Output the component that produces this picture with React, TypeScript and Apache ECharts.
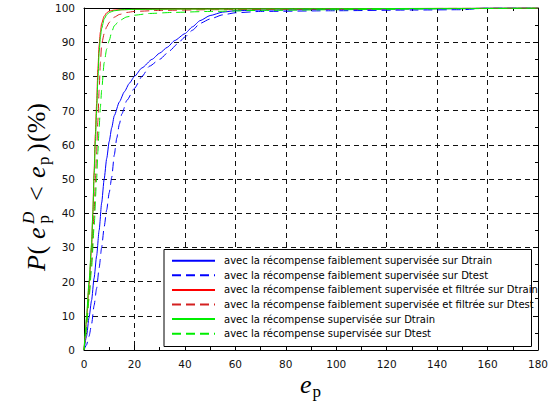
import React, { useEffect, useRef } from "react";
import * as echarts from "echarts";

// ---------- data ----------
const seriesNames = [
  "avec la récompense faiblement supervisée sur Dtrain",
  "avec la récompense faiblement supervisée sur Dtest",
  "avec la récompense faiblement supervisée et filtrée sur Dtrain",
  "avec la récompense faiblement supervisée et filtrée sur Dtest",
  "avec la récompense supervisée sur Dtrain",
  "avec la récompense supervisée sur Dtest",
];

const weakTrain: [number, number][] = [
  [0, 0], [1, 4], [2, 9.5], [3, 14.5], [4, 21], [5, 27.5], [6, 35], [7, 43], [8, 50], [9, 56],
  [10, 61], [11, 65], [12, 68.5], [14, 72.5], [16, 75.5], [18, 78], [20, 80], [23, 82.5],
  [27, 85], [30, 86.8], [33, 88.5], [36, 90.5], [40, 92.5], [43, 94.5], [46, 96.3], [50, 97.8],
  [55, 98.8], [60, 99.2], [70, 99.4], [100, 99.6], [150, 99.8], [160, 100], [180, 100],
];

const weakTest: [number, number][] = [
  [0, 0], [1, 1.5], [2, 4], [3, 7.5], [4, 13], [5, 18], [6, 24], [7, 30], [8, 36], [9, 41],
  [10, 46], [11, 50.5], [12, 57], [13, 62], [14, 66], [15, 69], [17, 73], [20, 76.5], [23, 80],
  [26, 83], [30, 85], [34, 87.5], [37, 89.5], [40, 91.5], [43, 93.5], [46, 95.5], [50, 96.8],
  [55, 98], [60, 98.6], [70, 99], [100, 99.2], [130, 99.4], [150, 99.5], [160, 100], [180, 100],
];

const filtTrain: [number, number][] = [
  [0, 0], [0.5, 4], [1, 9], [2, 19], [3, 30], [3.5, 40], [4, 52], [4.5, 63], [5, 72], [5.5, 82],
  [6, 89], [6.5, 93], [7, 95.5], [8, 97.6], [9, 98.6], [10, 99.1], [12, 99.4], [15, 99.5],
  [20, 99.6], [40, 99.7], [100, 99.8], [150, 99.9], [180, 100],
];

const filtTest: [number, number][] = [
  [0, 0], [0.5, 3], [1, 7], [2, 16], [3, 26], [4, 40], [4.5, 49], [5, 58], [5.5, 67], [6, 76],
  [6.5, 84], [7, 89.5], [8, 92.5], [9, 94.5], [10, 95.8], [12, 97.3], [14, 98.1], [17, 98.7],
  [20, 99], [30, 99.3], [50, 99.5], [100, 99.7], [150, 99.9], [180, 100],
];

const supTrain: [number, number][] = [
  [0, 0], [0.5, 5], [1, 10], [2, 20], [3, 31], [3.5, 40], [4, 51], [4.5, 61], [5, 70], [5.5, 79],
  [6, 87], [6.5, 91.5], [7, 94], [8, 96.8], [9, 98], [10, 98.7], [12, 99.2], [15, 99.5],
  [20, 99.6], [40, 99.7], [100, 99.8], [150, 99.9], [180, 100],
];

const supTest: [number, number][] = [
  [0, 0], [0.5, 3], [1, 7], [2, 15], [3, 24], [4, 36], [5, 50], [5.5, 58], [6, 65], [6.5, 71],
  [7, 76], [8, 84], [9, 88], [10, 90.5], [11, 93], [12, 94.8], [14, 96.3], [17, 97.4],
  [20, 97.9], [26, 98.4], [35, 98.7], [50, 99], [70, 99.3], [100, 99.5], [150, 99.8], [180, 100],
];

const seriesData = [weakTrain, weakTest, filtTrain, filtTest, supTrain, supTest];
const seriesColors = ["#0000ff", "#0000ff", "#ff0000", "#d42020", "#00ee00", "#00ee00"];
const seriesDashed = [false, true, false, true, false, true];

const xMin = 0, xMax = 180, xStep = 20;
const yMin = 0, yMax = 100, yStep = 10;

export default function App() {
  const ref = useRef<HTMLDivElement>(null);

  useEffect(() => {
    if (!ref.current) return;
    const chart = echarts.init(ref.current, null, { renderer: "svg" });

    const labelFont = { fontFamily: "DejaVu Sans", fontSize: 10.5, color: "#111" };
    const baseX = {
      type: "value" as const,
      min: xMin, max: xMax, interval: xStep,
      axisLine: { show: true, onZero: false, lineStyle: { color: "#000", width: 1 } },
      axisTick: { show: true, inside: true, length: 5, lineStyle: { color: "#000" } },
      minorTick: { show: true, splitNumber: 2, length: 3, lineStyle: { color: "#000" } },
    };
    const baseY = {
      type: "value" as const,
      min: yMin, max: yMax, interval: yStep,
      axisLine: { show: true, onZero: false, lineStyle: { color: "#000", width: 1 } },
      axisTick: { show: true, inside: true, length: 5, lineStyle: { color: "#000" } },
      minorTick: { show: true, splitNumber: 2, length: 3, lineStyle: { color: "#000" } },
    };

    const serif = "Liberation Serif";
    const mainSize = 26;
    const subSize = 17;
    const t = (text: string, x: number, y: number, size: number, italic: boolean) => ({
      type: "text",
      x, y,
      style: {
        text,
        font: `${italic ? "italic " : ""}${size}px "${serif}"`,
        fill: "#000",
        textAlign: "left",
        textVerticalAlign: "middle",
      },
    });

    chart.setOption({
      animation: false,
      backgroundColor: "#fff",
      grid: { left: 84, right: 14, top: 8, bottom: 53, containLabel: false },
      xAxis: [
        {
          ...baseX,
          position: "bottom",
          axisLabel: { ...labelFont, margin: 8 },
          splitLine: { show: true, lineStyle: { color: "#111", type: [5, 4], width: 1 } },
        },
        {
          ...baseX,
          position: "top",
          axisLabel: { show: false },
          splitLine: { show: false },
        },
      ],
      yAxis: [
        {
          ...baseY,
          position: "left",
          axisLabel: { ...labelFont, margin: 9 },
          splitLine: { show: true, lineStyle: { color: "#111", type: [5, 4], width: 1 } },
        },
        {
          ...baseY,
          position: "right",
          axisLabel: { show: false },
          splitLine: { show: false },
        },
      ],
      legend: {
        orient: "vertical",
        left: 171,
        top: 254.7,
        padding: 0,
        itemWidth: 43,
        itemHeight: 10,
        itemGap: 2.6,
        z: 60,
        itemStyle: { opacity: 0, borderWidth: 0 },
        textStyle: {
          fontFamily: "DejaVu Sans",
          fontSize: 10,
          lineHeight: 12,
          color: "#000",
          padding: [0, 0, 0, 4],
        },
        data: seriesNames,
      },
      graphic: [
        {
          type: "rect",
          z: 50,
          shape: { x: 164, y: 249.5, width: 367.5, height: 97 },
          style: { fill: "#fff", stroke: "#000", lineWidth: 1 },
        },
        {
          type: "group",
          x: 44.5,
          y: 271,
          rotation: Math.PI / 2,
          children: [
            t("P", 0, -8, mainSize, true),
            t("(", 16.5, -8, mainSize, false),
            t("e", 32, -8, mainSize, true),
            t("D", 47, -16, subSize, true),
            t("p", 47.5, -1, subSize, false),
            t("<", 70, -8, mainSize, false),
            t("e", 93, -8, mainSize, true),
            t("p", 106, -1, subSize, false),
            t(")", 119, -8, mainSize, false),
            t("(%)", 129, -8, mainSize, false),
          ],
        },
        {
          type: "group",
          x: 0,
          y: 0,
          children: [
            t("e", 300, 384, mainSize, true),
            t("p", 312.5, 391, subSize, false),
          ],
        },
      ],
      series: seriesData.map((d, i) => ({
        name: seriesNames[i],
        type: "line",
        data: d,
        symbol: "none",
        showSymbol: false,
        smooth: 0.2,
        smoothMonotone: "x",
        color: seriesColors[i],
        lineStyle: {
          color: seriesColors[i],
          width: 1,
          type: seriesDashed[i] ? [9, 5] : "solid",
        },
        z: 2 + i,
      })),
    });

    return () => chart.dispose();
  }, []);

  return (
    <div
      ref={ref}
      style={{ position: "absolute", left: 0, top: 0, width: 552, height: 403, background: "#fff" }}
    />
  );
}
